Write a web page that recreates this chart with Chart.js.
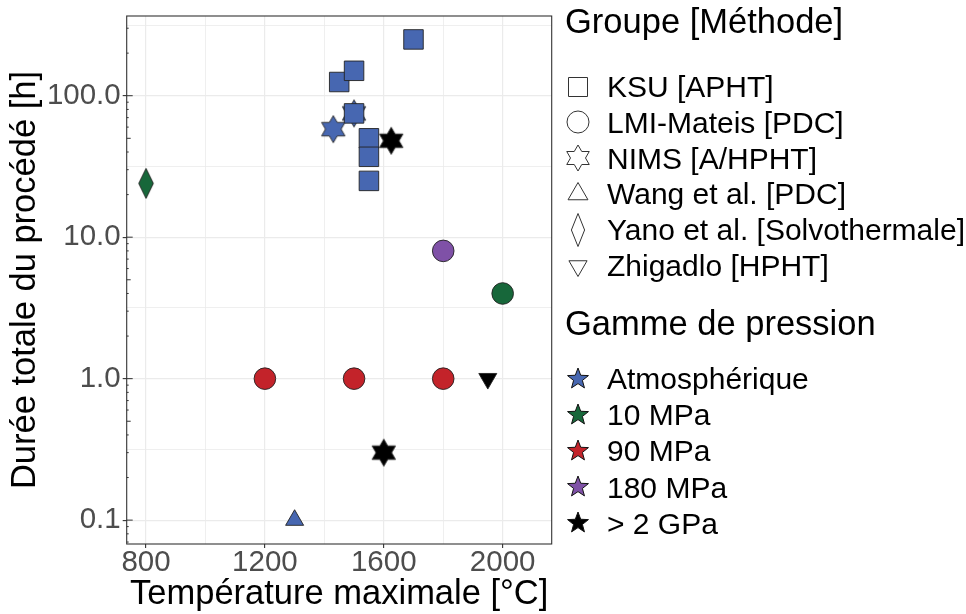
<!DOCTYPE html>
<html lang="fr">
<head>
<meta charset="utf-8">
<script src="https://cdn.jsdelivr.net/npm/chart.js@4.4.1/dist/chart.umd.min.js"></script>
<style>
    html, body { margin: 0; padding: 0; background: #fff; }
    #cadre { position: relative; width: 966px; height: 614px; font-family: "Liberation Sans", Arial, sans-serif; }
    #graphique { position: absolute; left: 0; top: 0; }
    .titre-leg { position: absolute; left: 565px; font-size: 34.5px; line-height: 34.5px; color: #000; white-space: nowrap; }
    .item-leg { position: absolute; left: 607px; font-size: 30px; line-height: 30px; color: #000; white-space: nowrap; }
    .symb-leg { position: absolute; }
</style>
</head>
<body>
<div id="cadre">
    <canvas id="graphique" width="966" height="614"></canvas>
    <div id="legende"></div>
</div>
<script>
// Groupes (forme du marqueur) et gammes de pression (couleur)
const groupes = ["KSU [APHT]", "LMI-Mateis [PDC]", "NIMS [A/HPHT]", "Wang et al. [PDC]", "Yano et al. [Solvothermale]", "Zhigadlo [HPHT]"];
const gammes = ["Atmosphérique", "10 MPa", "90 MPa", "180 MPa", "> 2 GPa"];
const couleurs = ["#4767b1", "#17673a", "#c3232a", "#7f51a7", "#000000"];

// KSU [APHT]
const ksuTemp = [1450, 1500, 1500, 1550, 1550, 1550, 1700];
const ksuDuree = [125, 150, 75, 50, 37, 25, 250];
const ksuGamme = ["Atmosphérique", "Atmosphérique", "Atmosphérique", "Atmosphérique", "Atmosphérique", "Atmosphérique", "Atmosphérique"];

// LMI-Mateis [PDC]
const lmiTemp = [1200, 1500, 1800, 1800, 2000];
const lmiDuree = [1, 1, 1, 8, 4];
const lmiGamme = ["90 MPa", "90 MPa", "90 MPa", "180 MPa", "10 MPa"];

// NIMS [A/HPHT]
const nimsTemp = [1430, 1500, 1600, 1625];
const nimsDuree = [58, 75, 0.3, 48];
const nimsGamme = ["Atmosphérique", "Atmosphérique", "> 2 GPa", "> 2 GPa"];

// Wang et al. [PDC]
const wangTemp = [1300];
const wangDuree = [0.1];
const wangGamme = ["Atmosphérique"];

// Yano et al. [Solvothermale]
const yanoTemp = [800];
const yanoDuree = [24];
const yanoGamme = ["10 MPa"];

// Zhigadlo [HPHT]
const zhigTemp = [1950];
const zhigDuree = [1];
const zhigGamme = ["> 2 GPa"];

// Graduations
const xTicks = [800, 1200, 1600, 2000];
const xMineurs = [1000, 1400, 1800];
const yTicks = [0.1, 1, 10, 100];
const yLabels = ["0.1", "1.0", "10.0", "100.0"];
const yMineurs = [0.316, 3.16, 31.6, 316];

function couleur(g) {
    return couleurs[gammes.indexOf(g)];
}

function points(temps, durees, gammesPts) {
    return temps.map((t, i) => ({ x: t, y: durees[i], g: gammesPts[i] }));
}

// dessin des formes (marqueurs et légende)
function tracerForme(ctx, forme, cx, cy, t, w) {
    ctx.beginPath();
    if (forme === "carre") {
        ctx.rect(cx - t, cy - t, 2 * t, 2 * t);
    } else if (forme === "rond") {
        ctx.arc(cx, cy, t, 0, 2 * Math.PI);
    } else if (forme === "triangle" || forme === "triangleBas") {
        const s = forme === "triangle" ? 1 : -1;
        ctx.moveTo(cx, cy - s * t);
        ctx.lineTo(cx + t * 0.866, cy + s * t / 2);
        ctx.lineTo(cx - t * 0.866, cy + s * t / 2);
        ctx.closePath();
    } else if (forme === "losange") {
        ctx.moveTo(cx, cy - t);
        ctx.lineTo(cx + w, cy);
        ctx.lineTo(cx, cy + t);
        ctx.lineTo(cx - w, cy);
        ctx.closePath();
    } else if (forme === "hexagramme" || forme === "etoile") {
        const n = forme === "hexagramme" ? 6 : 5;
        const ri = forme === "hexagramme" ? t / Math.sqrt(3) : t * 0.42;
        for (let k = 0; k < 2 * n; k++) {
            const r = k % 2 ? ri : t;
            const a = -Math.PI / 2 + k * Math.PI / n;
            const px = cx + r * Math.cos(a), py = cy + r * Math.sin(a);
            if (k === 0) ctx.moveTo(px, py); else ctx.lineTo(px, py);
        }
        ctx.closePath();
    }
}

const cache = {};
function marqueur(forme, fond, t, w) {
    const cle = forme + fond;
    if (cache[cle]) return cache[cle];
    const c = document.createElement("canvas");
    const taille = 2 * Math.ceil(t) + 4;
    c.width = taille;
    c.height = taille;
    const ctx = c.getContext("2d");
    tracerForme(ctx, forme, taille / 2, taille / 2, t, w);
    ctx.fillStyle = fond;
    ctx.fill();
    ctx.strokeStyle = "#222";
    ctx.lineWidth = 0.9;
    ctx.stroke();
    cache[cle] = c;
    return c;
}

const fondPoint = ctx => couleur(ctx.raw.g);

const cadrePanneau = {
    id: "cadrePanneau",
    afterDraw(chart) {
        const { ctx, chartArea: a, scales: { y } } = chart;
        ctx.save();
        ctx.strokeStyle = "#333";
        ctx.lineWidth = 1.1;
        ctx.strokeRect(a.left, a.top, a.right - a.left, a.bottom - a.top);
        // petites graduations logarithmiques
        ctx.lineWidth = 1;
        for (let p = -2; p <= 2; p++) {
            for (let m = 1; m <= 9; m++) {
                const v = m * Math.pow(10, p);
                if (v < y.min || v > y.max) continue;
                const py = y.getPixelForValue(v);
                const len = m === 1 ? 6 : (m === 5 ? 4 : 2);
                ctx.beginPath();
                ctx.moveTo(a.left, py);
                ctx.lineTo(a.left + len, py);
                ctx.stroke();
            }
        }
        ctx.restore();
    }
};

Chart.defaults.font.family = '"Liberation Sans", Arial, sans-serif';

const chart = new Chart(document.getElementById("graphique"), {
    type: "scatter",
    data: {
        datasets: [
            {
                label: groupes[0],
                data: points(ksuTemp, ksuDuree, ksuGamme),
                pointStyle: "rect",
                pointRadius: 13.8,
                backgroundColor: fondPoint,
                borderColor: "#222",
                borderWidth: 0.9
            },
            {
                label: groupes[1],
                data: points(lmiTemp, lmiDuree, lmiGamme),
                pointStyle: "circle",
                pointRadius: 10.8,
                backgroundColor: fondPoint,
                borderColor: "#222",
                borderWidth: 0.9
            },
            {
                label: groupes[2],
                data: points(nimsTemp, nimsDuree, nimsGamme),
                pointStyle: ctx => marqueur("hexagramme", couleur(ctx.raw.g), 13.5),
                pointRadius: 13
            },
            {
                label: groupes[3],
                data: points(wangTemp, wangDuree, wangGamme),
                pointStyle: "triangle",
                pointRadius: 10.4,
                backgroundColor: fondPoint,
                borderColor: "#222",
                borderWidth: 0.9
            },
            {
                label: groupes[4],
                data: points(yanoTemp, yanoDuree, yanoGamme),
                pointStyle: ctx => marqueur("losange", couleur(ctx.raw.g), 15, 7.3),
                pointRadius: 15
            },
            {
                label: groupes[5],
                data: points(zhigTemp, zhigDuree, zhigGamme),
                pointStyle: "triangle",
                rotation: 180,
                pointRadius: 10.4,
                backgroundColor: fondPoint,
                borderColor: "#222",
                borderWidth: 0.9
            }
        ]
    },
    options: {
        responsive: false,
        animation: false,
        events: [],
        layout: { padding: { top: 14, right: 414.3, left: 0, bottom: 0 } },
        plugins: { legend: { display: false }, tooltip: { enabled: false } },
        scales: {
            x: {
                type: "linear",
                min: 735,
                max: 2165,
                afterBuildTicks: s => {
                    s.ticks = [...xTicks, ...xMineurs].sort((a, b) => a - b).map(v => ({ value: v }));
                },
                afterFit: s => {
                    s.height = 70;
                    s.paddingLeft = 0;
                    s.paddingRight = 0;
                },
                ticks: {
                    autoSkip: false,
                    maxRotation: 0,
                    padding: 0,
                    color: "#4d4d4d",
                    font: { size: 29.5, lineHeight: 1 },
                    callback: v => xTicks.includes(v) ? String(v) : ""
                },
                grid: {
                    color: "#ebebeb",
                    lineWidth: ctx => ctx.tick && xTicks.includes(ctx.tick.value) ? 1.2 : 0.8,
                    tickLength: 4,
                    tickWidth: 1.1,
                    tickColor: ctx => ctx.tick && xTicks.includes(ctx.tick.value) ? "#333" : "rgba(0,0,0,0)"
                },
                border: { display: false },
                title: {
                    display: true,
                    text: "Température maximale [°C]",
                    color: "#000",
                    font: { size: 34.5, lineHeight: 1 },
                    padding: { top: 0, bottom: 2 }
                }
            },
            y: {
                type: "logarithmic",
                min: 0.0678,
                max: 366,
                afterBuildTicks: s => {
                    s.ticks = [...yTicks, ...yMineurs].sort((a, b) => a - b).map(v => ({ value: v }));
                },
                afterFit: s => {
                    s.width = 126.7;
                    s.paddingTop = 0;
                    s.paddingBottom = 0;
                },
                ticks: {
                    autoSkip: false,
                    padding: 2,
                    color: "#4d4d4d",
                    font: { size: 29.5, lineHeight: 1 },
                    callback: v => {
                        const i = yTicks.indexOf(v);
                        return i >= 0 ? yLabels[i] : "";
                    }
                },
                grid: {
                    color: "#ebebeb",
                    lineWidth: ctx => ctx.tick && yTicks.includes(ctx.tick.value) ? 1.2 : 0.8,
                    tickLength: 4,
                    tickWidth: 1.1,
                    tickColor: ctx => ctx.tick && yTicks.includes(ctx.tick.value) ? "#333" : "rgba(0,0,0,0)"
                },
                border: { display: false },
                title: {
                    display: true,
                    text: "Durée totale du procédé [h]",
                    color: "#000",
                    font: { size: 34.5, lineHeight: 1 },
                    padding: { top: 8, bottom: 0 }
                }
            }
        }
    },
    plugins: [cadrePanneau]
});

// Légende (deux blocs) construite à partir des tableaux
function ajouterTexte(classe, texte, top) {
    const d = document.createElement("div");
    d.className = classe;
    d.style.top = top + "px";
    d.textContent = texte;
    document.getElementById("legende").appendChild(d);
}

function ajouterSymbole(forme, fond, contour, cy, t, w) {
    const c = document.createElement("canvas");
    c.width = 40;
    c.height = 44;
    c.className = "symb-leg";
    c.style.left = (577.5 - 20) + "px";
    c.style.top = (cy - 22) + "px";
    const ctx = c.getContext("2d");
    tracerForme(ctx, forme, 20, 22, t, w);
    if (fond) {
        ctx.fillStyle = fond;
        ctx.fill();
    }
    ctx.strokeStyle = contour;
    ctx.lineWidth = 1;
    ctx.stroke();
    document.getElementById("legende").appendChild(c);
}

const formesLeg = [["carre", 9.5], ["rond", 11], ["hexagramme", 13], ["triangle", 11.5], ["losange", 16.5, 6.6], ["triangleBas", 10.5]];

ajouterTexte("titre-leg", "Groupe [Méthode]", 4.1);
groupes.forEach((g, i) => {
    const base = 97.3 + i * 35.8;
    ajouterTexte("item-leg", g, base - 25.4);
    const f = formesLeg[i];
    ajouterSymbole(f[0], null, "#333", base - 10.7, f[1], f[2]);
});

ajouterTexte("titre-leg", "Gamme de pression", 305.8);
gammes.forEach((g, i) => {
    const base = 389.3 + i * 36.2;
    ajouterTexte("item-leg", g, base - 25.4);
    ajouterSymbole("etoile", couleurs[i], "#111", base - 10.7, 11);
});
</script>
</body>
</html>
